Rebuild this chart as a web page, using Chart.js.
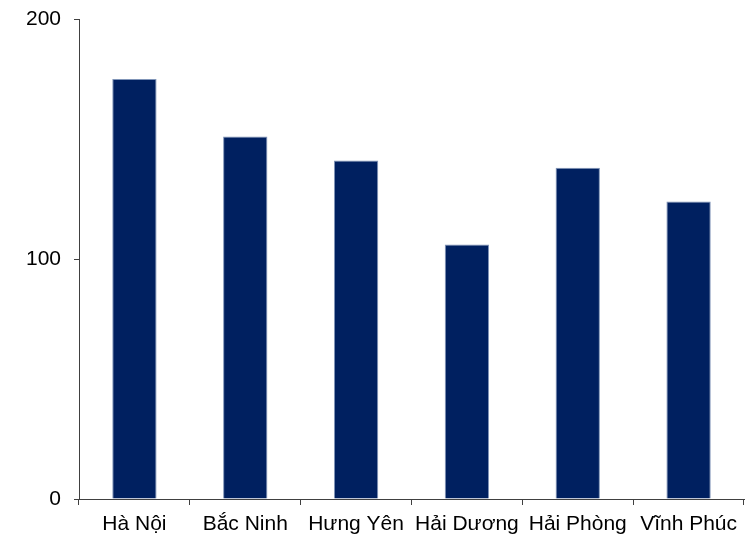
<!DOCTYPE html>
<html>
<head>
<meta charset="utf-8">
<script src="https://cdn.jsdelivr.net/npm/chart.js@4/dist/chart.umd.min.js"></script>
<style>
  html, body { margin: 0; padding: 0; background: #fff; }
  #wrap { width: 756px; height: 535px; }
</style>
</head>
<body>
<div id="wrap"><canvas id="c" width="756" height="535"></canvas></div>
<script>
// data
const provinces = ['Hà Nội', 'Bắc Ninh', 'Hưng Yên', 'Hải Dương', 'Hải Phòng', 'Vĩnh Phúc'];
const values = [175, 151, 141, 106, 138, 124];
const yTicks = [0, 100, 200];

const axisColor = '#404040';
const barColor = '#002060';

Chart.defaults.font.family = '"Liberation Sans", Arial, sans-serif';
Chart.defaults.font.size = 21;
Chart.defaults.color = '#000';

new Chart(document.getElementById('c'), {
  type: 'bar',
  data: {
    labels: provinces,
    datasets: [{
      data: values,
      backgroundColor: barColor,
      borderColor: '#8095b8',
      borderWidth: { top: 1, left: 1, right: 1, bottom: 0 },
      barPercentage: 0.4,
      categoryPercentage: 1.0
    }]
  },
  options: {
    responsive: false,
    animation: false,
    layout: { padding: { top: 19, right: 12, left: 0, bottom: 0 } },
    plugins: { legend: { display: false }, tooltip: { enabled: false } },
    scales: {
      x: {
        offset: true,
        grid: { offset: true, drawOnChartArea: false, drawTicks: true, tickLength: 6, color: axisColor },
        border: { display: true, color: axisColor, width: 1 },
        ticks: { padding: 7, maxRotation: 0, autoSkip: false },
        afterFit: s => { s.height = 36; s.paddingLeft = 0; s.paddingRight = 0; }
      },
      y: {
        min: 0,
        max: 200,
        afterBuildTicks: s => { s.ticks = yTicks.map(v => ({ value: v })); },
        grid: { drawOnChartArea: false, drawTicks: true, tickLength: 5, color: axisColor },
        border: { display: true, color: axisColor, width: 1 },
        ticks: { padding: 13 },
        afterFit: s => { s.width = 79; s.paddingTop = 0; s.paddingBottom = 0; }
      }
    }
  }
});
</script>
</body>
</html>
